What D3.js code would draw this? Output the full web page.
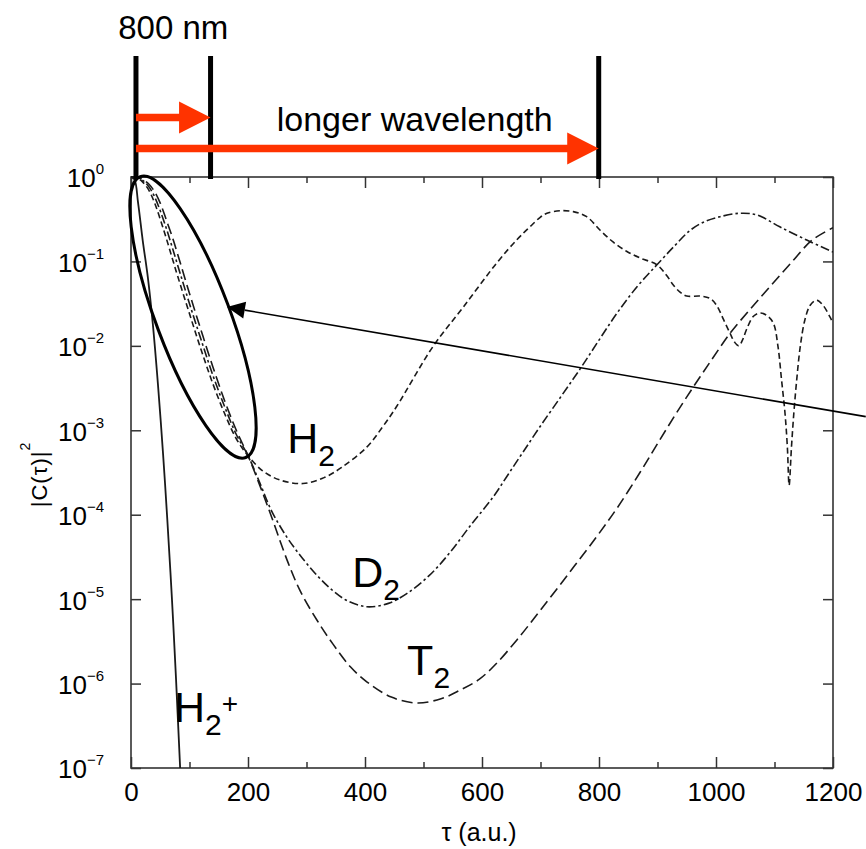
<!DOCTYPE html>
<html>
<head>
<meta charset="utf-8">
<script src="https://cdn.jsdelivr.net/npm/d3@7"></script>
<style>
  html, body { margin: 0; padding: 0; background: #fff; }
  svg { display: block; font-family: "Liberation Sans", Arial, Helvetica, sans-serif; }
</style>
</head>
<body>
<svg id="chart" width="866" height="849"></svg>
<script>
// ---- autocorrelation |C(tau)|^2 versus delay tau (a.u.) ----
const tauH2plus = [0, 6, 12, 20, 29, 37, 46, 55, 62, 70, 77, 84, 88];
const valH2plus = [1, 0.93, 0.50, 0.178, 0.0631, 0.0191, 3.55e-3, 5.01e-4, 8.91e-5, 1.0e-5, 1.12e-6, 1.0e-7, 3.0e-8];

const tauH2 = [0, 10, 20, 30, 40, 50, 60, 70, 80, 100, 120, 140, 160, 180, 200, 225, 255, 294, 330, 360,
  403, 431, 454, 516, 568, 625, 660, 682, 699, 711, 733, 756, 779, 802, 824, 847, 870, 899, 915, 927,
  938, 950, 973, 990, 1001, 1013, 1024, 1032, 1039, 1046, 1052, 1064, 1075, 1087, 1098, 1106, 1112, 1118, 1122, 1125,
  1129, 1133, 1138, 1144, 1152, 1161, 1172, 1183, 1195, 1200];
const valH2 = [1, 0.977, 0.871, 0.708, 0.501, 0.316, 0.191, 0.112, 0.0661, 0.0240, 8.91e-3, 3.55e-3, 1.58e-3, 7.94e-4, 5.01e-4, 3.31e-4, 2.57e-4, 2.34e-4, 2.75e-4, 3.63e-4,
  6.31e-4, 1.12e-3, 1.91e-3, 9.77e-3, 0.0288, 0.0955, 0.182, 0.257, 0.331, 0.372, 0.398, 0.389, 0.339, 0.234, 0.170, 0.132, 0.110, 0.0912, 0.0692, 0.0525,
  0.0437, 0.0389, 0.0389, 0.0363, 0.0302, 0.0204, 0.0141, 0.0110, 0.0100, 0.0120, 0.0155, 0.0224, 0.0245, 0.0229, 0.0186, 9.77e-3, 3.98e-3, 1.58e-3, 6.31e-4, 2.24e-4,
  6.31e-4, 1.58e-3, 3.98e-3, 9.77e-3, 0.0204, 0.0302, 0.0347, 0.0302, 0.0219, 0.0186];

const tauD2 = [0, 10, 20, 30, 40, 50, 60, 70, 80, 100, 120, 140, 160, 180, 200, 220, 240, 265, 289, 318,
  345, 370, 403, 440, 472, 510, 545, 580, 619, 645, 670, 699, 735, 768, 800, 831, 865, 899, 930, 956,
  980, 1007, 1041, 1070, 1109, 1156, 1200];
const valD2 = [1, 0.989, 0.912, 0.776, 0.589, 0.398, 0.251, 0.151, 0.0891, 0.0316, 0.0117, 4.47e-3, 1.91e-3, 8.91e-4, 5.01e-4, 2.40e-4, 1.12e-4, 5.62e-5, 3.31e-5, 1.91e-5,
  1.26e-5, 9.55e-6, 8.13e-6, 8.91e-6, 1.17e-5, 1.91e-5, 3.55e-5, 7.41e-5, 1.62e-4, 3.02e-4, 5.50e-4, 1.10e-3, 2.51e-3, 5.37e-3, 0.0117, 0.0245, 0.0501, 0.0912, 0.155, 0.234,
  0.295, 0.339, 0.372, 0.355, 0.257, 0.178, 0.129];

const tauT2 = [0, 10, 20, 30, 40, 50, 60, 70, 80, 100, 120, 140, 160, 180, 200, 220, 240, 267, 289, 318,
  345, 375, 403, 445, 489, 530, 562, 595, 625, 660, 700, 750, 796, 831, 870, 899, 930, 961, 993, 1024,
  1058, 1092, 1128, 1164, 1200];
const valT2 = [1, 0.995, 0.933, 0.832, 0.676, 0.490, 0.316, 0.200, 0.120, 0.0417, 0.0151, 5.62e-3, 2.24e-3, 1.0e-3, 5.01e-4, 2.24e-4, 9.55e-5, 2.88e-5, 1.26e-5, 5.62e-6,
  2.95e-6, 1.58e-6, 1.05e-6, 6.92e-7, 5.89e-7, 6.61e-7, 8.32e-7, 1.12e-6, 1.74e-6, 3.31e-6, 7.41e-6, 2.09e-5, 5.50e-5, 1.20e-4, 3.16e-4, 6.76e-4, 1.51e-3, 3.24e-3, 6.92e-3, 0.0141,
  0.0269, 0.0501, 0.0955, 0.178, 0.251];

// axis ticks
const xMajorTicks = [0, 200, 400, 600, 800, 1000, 1200];
const xMinorTicks = [100, 300, 500, 700, 900, 1100];
const yTicks = [1, 1e-1, 1e-2, 1e-3, 1e-4, 1e-5, 1e-6, 1e-7];
const yTickExponents = ["0", "\u22121", "\u22122", "\u22123", "\u22124", "\u22125", "\u22126", "\u22127"];

// curve labels: [main text, subscript, superscript, tau, value at baseline]
const curveLabels = [
  ["H", "2", "", 267, 5.4e-4],
  ["D", "2", "", 378, 1.38e-5],
  ["T", "2", "", 472, 1.26e-6],
  ["H", "2", "+", 73.5, 3.5e-7]
];

// pulse-duration markers above the frame (tau positions)
const pulseMarkers = [8.5, 136, 799.5];
const pulseText = "800 nm";
const wavelengthText = "longer wavelength";

// highlighted early-decay region and pointer
const ellipseCenter = [106, 0.0219];
const pointerTip = [164, 0.0288];
const pointerTail = [1256, 1.45e-3];

// ---- layout ----
const svg = d3.select("#chart");
const L = 131, R = 833, T = 177, B = 768;
const x = d3.scaleLinear().domain([0, 1200]).range([L, R]);
const y = d3.scaleLog().domain([1e-7, 1]).range([B, T]);
const axisColor = "#333";

svg.append("defs").append("clipPath").attr("id", "plotClip")
  .append("rect").attr("x", L).attr("y", T - 2).attr("width", R - L).attr("height", B - T + 2);

// frame
svg.append("rect").attr("x", L).attr("y", T).attr("width", R - L).attr("height", B - T)
  .attr("fill", "none").attr("stroke", axisColor).attr("stroke-width", 1.6);

function styleAxis(g) {
  g.select(".domain").remove();
  g.selectAll(".tick line").attr("stroke", axisColor).attr("stroke-width", 1.5);
}

// bottom axis
svg.append("g").attr("transform", `translate(0,${B})`)
  .call(d3.axisBottom(x).tickValues(xMajorTicks).tickSize(-11).tickSizeOuter(0).tickPadding(15).tickFormat(d3.format("d")))
  .call(styleAxis)
  .call(g => g.selectAll(".tick text").attr("font-size", 26).attr("fill", "#000")
    .attr("font-family", "'Liberation Sans', Arial, sans-serif"));
svg.append("g").attr("transform", `translate(0,${B})`)
  .call(d3.axisBottom(x).tickValues(xMinorTicks).tickSize(-6).tickSizeOuter(0).tickFormat(""))
  .call(styleAxis);

// top axis
svg.append("g").attr("transform", `translate(0,${T})`)
  .call(d3.axisTop(x).tickValues(xMajorTicks).tickSize(-11).tickSizeOuter(0).tickFormat(""))
  .call(styleAxis);
svg.append("g").attr("transform", `translate(0,${T})`)
  .call(d3.axisTop(x).tickValues(xMinorTicks).tickSize(-6).tickSizeOuter(0).tickFormat(""))
  .call(styleAxis);

// left axis with power-of-ten labels
svg.append("g").attr("transform", `translate(${L},0)`)
  .call(d3.axisLeft(y).tickValues(yTicks).tickSize(-10).tickSizeOuter(0).tickPadding(27).tickFormat(""))
  .call(styleAxis)
  .call(g => g.selectAll(".tick text").each(function (d) {
    const t = d3.select(this).attr("dy", "0.38em").attr("font-size", 26).attr("fill", "#000")
      .attr("font-family", "'Liberation Sans', Arial, sans-serif");
    t.append("tspan").text("10");
    t.append("tspan").attr("dy", -13).attr("font-size", 15).text(yTickExponents[yTicks.indexOf(d)]);
  }));

// right axis
svg.append("g").attr("transform", `translate(${R},0)`)
  .call(d3.axisRight(y).tickValues(yTicks).tickSize(-10).tickSizeOuter(0).tickFormat(""))
  .call(styleAxis);

// axis titles
svg.append("text").attr("x", x(595)).attr("y", 841).attr("text-anchor", "middle")
  .attr("font-size", 25).text("\u03C4 (a.u.)");
const yTitle = svg.append("text").attr("transform", `translate(47,${(T + B) / 2 + 2}) rotate(-90)`)
  .attr("text-anchor", "middle").attr("font-size", 22).attr("letter-spacing", 1);
yTitle.append("tspan").text("|C(\u03C4)|");
yTitle.append("tspan").attr("dy", -17).attr("font-size", 14).text("2");

// ---- curves ----
const line = d3.line().x(d => x(d[0])).y(d => y(d[1])).curve(d3.curveCatmullRom.alpha(0.5));
const series = [
  { tau: tauH2plus, val: valH2plus, dash: null, w: 1.8 },
  { tau: tauH2, val: valH2, dash: "6,3.5", w: 1.6 },
  { tau: tauD2, val: valD2, dash: "9,3,2.5,3", w: 1.6 },
  { tau: tauT2, val: valT2, dash: "11,5", w: 1.6 }
];
const plot = svg.append("g").attr("clip-path", "url(#plotClip)");
series.forEach(s => {
  plot.append("path").datum(s.tau.map((t, i) => [t, s.val[i]]))
    .attr("d", line).attr("fill", "none").attr("stroke", "#1a1a1a")
    .attr("stroke-width", s.w).attr("stroke-dasharray", s.dash);
});

// curve labels
curveLabels.forEach(([main, sub, sup, t, v]) => {
  const txt = svg.append("text").attr("x", x(t)).attr("y", y(v)).attr("font-size", 43).attr("fill", "#000");
  txt.append("tspan").text(main);
  txt.append("tspan").attr("dy", 13).attr("font-size", 30).text(sub);
  if (sup) txt.append("tspan").attr("dy", -22).attr("font-size", 28).text(sup);
});

// ---- ellipse around the common early decay ----
const ec = [x(ellipseCenter[0]), y(ellipseCenter[1])];
svg.append("ellipse").attr("cx", 0).attr("cy", 0).attr("rx", 150).attr("ry", 37)
  .attr("transform", `translate(${ec[0]},${ec[1]}) rotate(69.4)`)
  .attr("fill", "none").attr("stroke", "#000").attr("stroke-width", 3);

// pointer arrow into the ellipse
const tip = [x(pointerTip[0]), y(pointerTip[1])];
const tail = [x(pointerTail[0]), y(pointerTail[1])];
const ang = Math.atan2(tip[1] - tail[1], tip[0] - tail[0]);
const hl = 18, hw = 8.5;
const base = [tip[0] - hl * Math.cos(ang), tip[1] - hl * Math.sin(ang)];
svg.append("line").attr("x1", tail[0]).attr("y1", tail[1]).attr("x2", base[0]).attr("y2", base[1])
  .attr("stroke", "#000").attr("stroke-width", 1.6);
svg.append("path")
  .attr("d", `M${tip[0]},${tip[1]}L${base[0] + hw * Math.sin(ang)},${base[1] - hw * Math.cos(ang)}L${base[0] - hw * Math.sin(ang)},${base[1] + hw * Math.cos(ang)}Z`)
  .attr("fill", "#000");

// ---- pulse markers and wavelength arrows ----
const barTop = 56, barBottom = 179;
svg.selectAll("line.marker").data(pulseMarkers).join("line").attr("class", "marker")
  .attr("x1", d => x(d)).attr("x2", d => x(d)).attr("y1", barTop).attr("y2", barBottom)
  .attr("stroke", "#000").attr("stroke-width", 5);

const red = "#ff3300";
function redArrow(x0, x1, yc) {
  const headLen = 31.5, headHalf = 16, shaftHalf = 3.8;
  const xb = x1 - headLen;
  svg.append("path")
    .attr("d", `M${x0},${yc - shaftHalf}L${xb},${yc - shaftHalf}L${xb},${yc - headHalf}L${x1},${yc}` +
      `L${xb},${yc + headHalf}L${xb},${yc + shaftHalf}L${x0},${yc + shaftHalf}Z`)
    .attr("fill", red);
}
redArrow(x(pulseMarkers[0]), x(pulseMarkers[1]), 117.5);
redArrow(x(pulseMarkers[0]), x(pulseMarkers[2]), 148.5);

svg.append("text").attr("x", (x(pulseMarkers[0]) + x(pulseMarkers[1])) / 2).attr("y", 38.5)
  .attr("text-anchor", "middle").attr("font-size", 33).text(pulseText);
svg.append("text").attr("x", x(485)).attr("y", 130.5)
  .attr("text-anchor", "middle").attr("font-size", 34).text(wavelengthText);
</script>
</body>
</html>
